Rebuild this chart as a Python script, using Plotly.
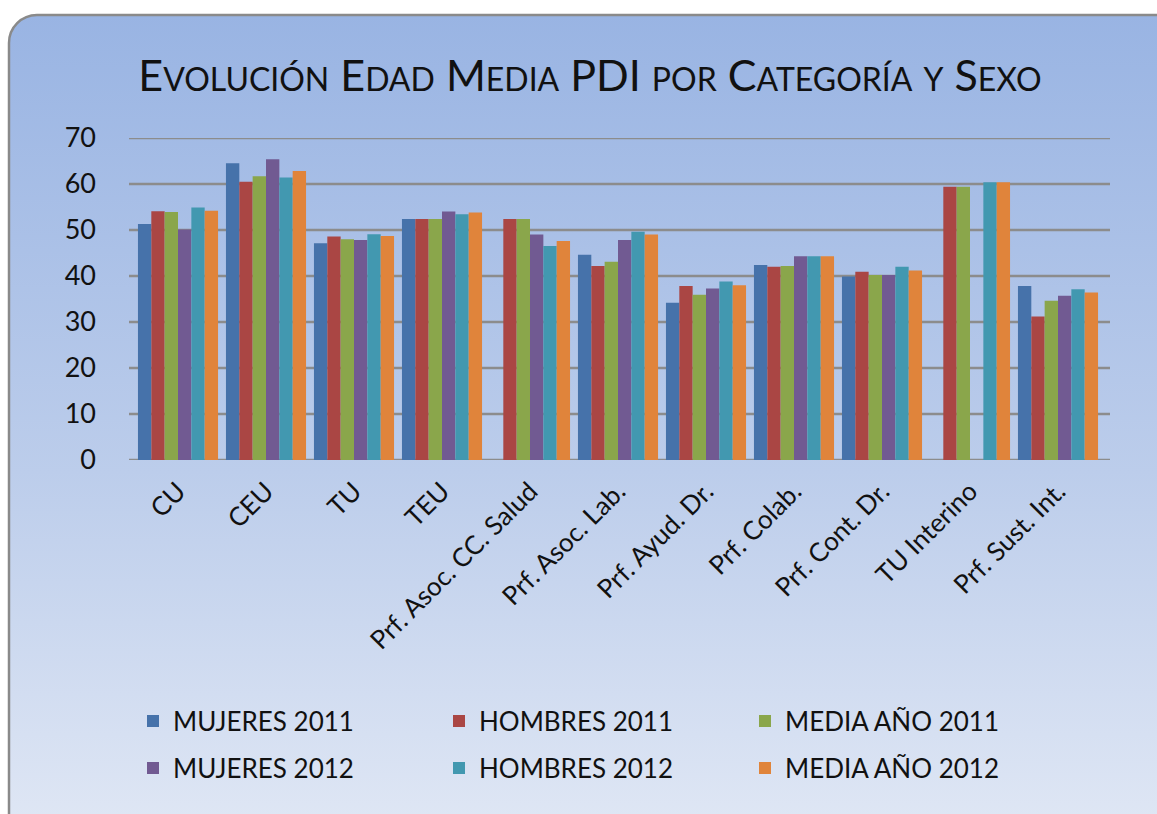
import base64
import plotly.graph_objects as go

categories = ["CU", "CEU", "TU", "TEU", "Prf. Asoc. CC. Salud", "Prf. Asoc. Lab.",
              "Prf. Ayud. Dr.", "Prf. Colab.", "Prf. Cont. Dr.", "TU Interino", "Prf. Sust. Int."]

mujeres_2011 = [51.3, 64.5, 47.1, 52.4, None, 44.6, 34.2, 42.4, 39.9, None, 37.8]
hombres_2011 = [54.1, 60.5, 48.6, 52.4, 52.4, 42.2, 37.8, 42.0, 40.9, 59.4, 31.2]
media_2011 = [53.9, 61.7, 48.0, 52.4, 52.4, 43.1, 35.9, 42.2, 40.2, 59.4, 34.6]
mujeres_2012 = [50.1, 65.4, 47.8, 54.0, 49.0, 47.8, 37.3, 44.3, 40.2, None, 35.7]
hombres_2012 = [54.9, 61.4, 49.1, 53.4, 46.5, 49.6, 38.8, 44.3, 42.0, 60.4, 37.1]
media_2012 = [54.2, 62.8, 48.7, 53.8, 47.6, 49.0, 38.0, 44.3, 41.2, 60.4, 36.4]

y_ticks = [0, 10, 20, 30, 40, 50, 60, 70]

series_names = ["MUJERES 2011", "HOMBRES 2011", "MEDIA AÑO 2011",
                "MUJERES 2012", "HOMBRES 2012", "MEDIA AÑO 2012"]
series_values = [mujeres_2011, hombres_2011, media_2011, mujeres_2012, hombres_2012, media_2012]
colors = ["#4672aa", "#aa4644", "#8aa64b", "#715a92", "#4298b0", "#e0843b"]

W, H = 1157, 814
L, R, T, B = 134, 55, 138, 354
PW, PH = W - L - R, H - T - B

FONT = "Gill Sans MT, Lato, sans-serif"

fig = go.Figure()
for i, (name, vals, col) in enumerate(zip(series_names, series_values, colors)):
    fig.add_trace(go.Bar(
        x=categories, y=vals, name=name,
        marker=dict(color=col, line=dict(width=0)),
        legend="legend" if i < 3 else "legend2",
    ))

svg = f"""<svg xmlns='http://www.w3.org/2000/svg' width='{W}' height='{H}' viewBox='0 0 {W} {H}'>
<defs><linearGradient id='g' x1='0' y1='0' x2='0' y2='1'>
<stop offset='0' stop-color='#99b4e3'/><stop offset='0.55' stop-color='#bccdeb'/><stop offset='1' stop-color='#e1e8f5'/>
</linearGradient></defs>
<rect x='9' y='15' width='1175' height='830' rx='28' ry='28' fill='url(#g)' stroke='#8a8a8a' stroke-width='2.5'/>
</svg>"""
src = "data:image/svg+xml;base64," + base64.b64encode(svg.encode()).decode()

fig.add_layout_image(dict(
    source=src, xref="paper", yref="paper",
    x=-L / PW, y=1 + T / PH, sizex=W / PW, sizey=H / PH,
    sizing="stretch", xanchor="left", yanchor="top", layer="below",
))

# gridlines (slightly wider than the plot area, like the reference)
for v in y_ticks:
    fig.add_shape(type="line", xref="paper", yref="y", x0=-5 / PW, x1=1 + 8 / PW, y0=v, y1=v,
                  line=dict(color="#8c8c8c", width=2.5), layer="below")

S = 32
title_html = (f"E<span style='font-size:{S}px'>VOLUCIÓN</span> E<span style='font-size:{S}px'>DAD</span> "
              f"M<span style='font-size:{S}px'>EDIA</span> PDI <span style='font-size:{S}px'>POR</span> "
              f"C<span style='font-size:{S}px'>ATEGORÍA</span> <span style='font-size:{S}px'>Y</span> "
              f"S<span style='font-size:{S}px'>EXO</span>")

legend_common = dict(
    orientation="h", xanchor="left", yanchor="middle",
    font=dict(family=FONT, size=26, color="#111111"),
    bgcolor="rgba(0,0,0,0)", entrywidth=261, entrywidthmode="pixels",
    itemclick=False, itemdoubleclick=False, traceorder="normal",
)

fig.update_layout(
    width=W, height=H,
    margin=dict(l=L, r=R, t=T, b=B, pad=0),
    paper_bgcolor="white", plot_bgcolor="rgba(0,0,0,0)",
    barmode="group", bargap=0.09, bargroupgap=0.0,
    title=dict(text=title_html, x=590 / W, xanchor="center", y=1 - 76 / H, yanchor="middle",
               font=dict(family=FONT, size=43, color="#111111")),
    xaxis=dict(
        range=[-0.5, len(categories) - 0.5], tickangle=-45,
        tickfont=dict(family=FONT, size=26, color="#111111"),
        showline=False, ticks="", showgrid=False, ticklabelstandoff=10,
    ),
    yaxis=dict(
        range=[0, 70], tickvals=y_ticks,
        tickfont=dict(family=FONT, size=27, color="#111111"),
        showgrid=False, showline=False, zeroline=False, ticks="", ticklabelstandoff=37,
    ),
    legend=dict(x=(133 - L) / PW, y=(T + PH - 721) / PH, **legend_common),
    legend2=dict(x=(133 - L) / PW, y=(T + PH - 768) / PH, **legend_common),
    showlegend=True,
)

fig.write_html("out.html", config={"displayModeBar": False},
               post_script="document.body.style.margin='0';")
